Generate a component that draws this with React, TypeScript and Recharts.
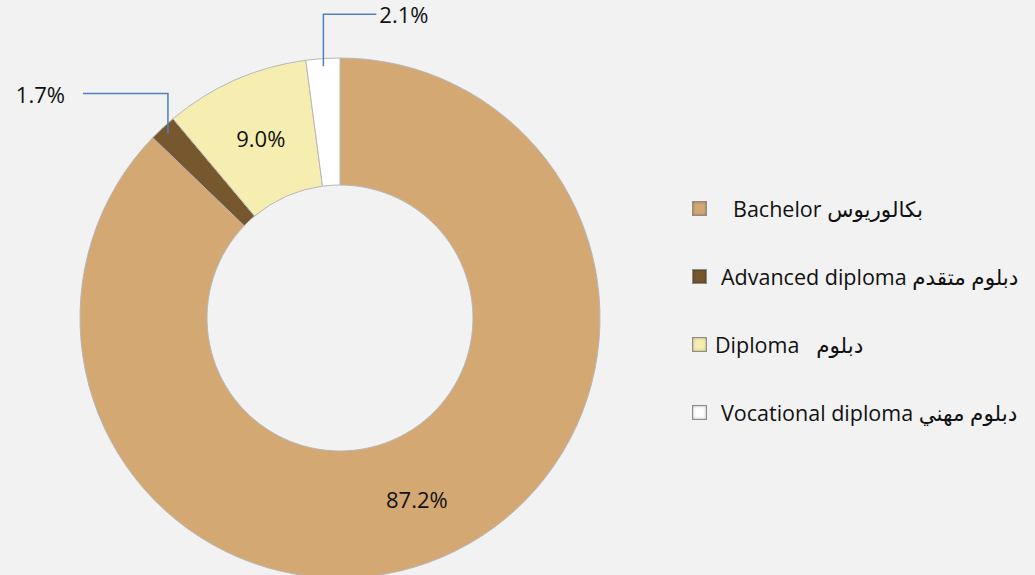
import { PieChart, Pie, Cell, Legend } from "recharts";

const categories = [
  "Bachelor بكالوريوس",
  "Advanced diploma دبلوم متقدم",
  "Diploma   دبلوم",
  "Vocational diploma دبلوم مهني",
];
const shares = [87.2, 1.7, 9.0, 2.1];
const colors = ["#d4a873", "#76572e", "#f6eeb1", "#ffffff"];

const data = categories.map((name, i) => ({ name, value: shares[i] }));

const FONT = "'Open Sans', 'DejaVu Sans', sans-serif";
const RAD = Math.PI / 180;

// leader line tweaks for the small slices (rise above the ring, then run sideways)
const callouts: Record<number, { up: number; run: number }> = {
  1: { up: 40, run: -85 },
  3: { up: 52, run: 53 },
};

// legend text indent per row, the original has uneven spacing
const legendGap = [26, 14, 8, 14];

const renderLabel = (props: any) => {
  const { cx, cy, midAngle, innerRadius, outerRadius, value, index } = props;
  const c = callouts[index];
  if (!c) {
    const r = (innerRadius + outerRadius) / 2;
    const x = cx + r * Math.cos(-midAngle * RAD);
    const y = cy + r * Math.sin(-midAngle * RAD);
    return (
      <text x={x} y={y} fill="#111" fontSize={22} fontFamily={FONT} textAnchor="middle" dominantBaseline="central">
        {value.toFixed(1)}%
      </text>
    );
  }
  const r = outerRadius * 0.97;
  const x0 = cx + r * Math.cos(-midAngle * RAD);
  const y0 = cy + r * Math.sin(-midAngle * RAD);
  const y1 = y0 - c.up;
  const x1 = x0 + c.run;
  const right = c.run > 0;
  return (
    <g>
      <polyline points={`${x0},${y0} ${x0},${y1} ${x1},${y1}`} fill="none" stroke="#4f81bd" strokeWidth={1.5} />
      <text
        x={x1 + (right ? 3 : -18)}
        y={y1}
        fill="#111"
        fontSize={22}
        fontFamily={FONT}
        textAnchor={right ? "start" : "end"}
        dominantBaseline="central"
      >
        {value.toFixed(1)}%
      </text>
    </g>
  );
};

const renderLegend = (props: any) => {
  const payload = [...(props.payload || [])].sort(
    (a: any, b: any) => categories.indexOf(a.value) - categories.indexOf(b.value)
  );
  return (
    <div style={{ fontFamily: FONT, fontSize: 21.5, color: "#111" }}>
      {payload.map((p: any, i: number) => (
        <div key={i} style={{ display: "flex", alignItems: "center", height: 68 }}>
          <span
            style={{
              display: "inline-block",
              width: 13,
              height: 13,
              background: p.color,
              border: "1px solid #8c8c8c",
              boxShadow: "inset 0 0 3px rgba(0,0,0,0.35)",
              marginRight: legendGap[i],
            }}
          />
          <span style={{ whiteSpace: "pre" }}>{p.value}</span>
        </div>
      ))}
    </div>
  );
};

export default function App() {
  return (
    <div style={{ position: "absolute", left: 0, top: 0, width: 1035, height: 575, background: "#f2f2f2", overflow: "hidden" }}>
      <PieChart width={1035} height={575} margin={{ top: 0, right: 0, bottom: 0, left: 0 }}>
        <Pie
          data={data}
          dataKey="value"
          nameKey="name"
          cx={340}
          cy={318}
          innerRadius={133}
          outerRadius={260}
          startAngle={90}
          endAngle={-270}
          stroke="#b7b7b7"
          strokeWidth={1}
          label={renderLabel}
          labelLine={false}
          isAnimationActive={false}
        >
          {data.map((d, i) => (
            <Cell key={d.name} fill={colors[i]} />
          ))}
        </Pie>
        <Legend
          layout="vertical"
          align="right"
          verticalAlign="top"
          content={renderLegend}
          wrapperStyle={{ left: 692, top: 174, width: 340 }}
        />
      </PieChart>
    </div>
  );
}
